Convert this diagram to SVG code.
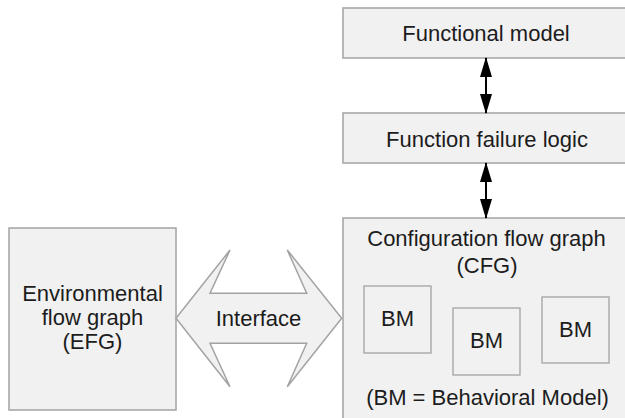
<svg xmlns="http://www.w3.org/2000/svg" width="625" height="418" viewBox="0 0 625 418">
<style>
.box{fill:#f1f1f1;stroke:#a3a3a3;stroke-width:1.5}
.bm{fill:#f1f1f1;stroke:#a3a3a3;stroke-width:1.3}
text{font-family:"Liberation Sans",Arial,sans-serif;font-size:22px;fill:#1c1c1c;text-anchor:middle}
.conn{stroke:#000;stroke-width:2;fill:none}
</style>
<defs>
<marker id="ah" viewBox="0 0 20 12" refX="19" refY="6" markerWidth="20" markerHeight="12" markerUnits="userSpaceOnUse" orient="auto-start-reverse">
<path d="M0,0 L20,6 L0,12 Z" fill="#000"/>
</marker>
</defs>
<rect width="625" height="418" fill="#fff"/>
<g id="functional-model">
<rect class="box" x="343" y="8" width="290" height="50"/>
<text x="486" y="41">Functional model</text>
</g>
<g id="function-failure-logic">
<rect class="box" x="343" y="113" width="290" height="50"/>
<text x="487" y="146.5">Function failure logic</text>
</g>
<g id="cfg">
<rect class="box" x="343" y="218" width="290" height="210"/>
<text x="486.5" y="246">Configuration flow graph</text>
<text x="487" y="273">(CFG)</text>
<text x="487.5" y="405">(BM = Behavioral Model)</text>
</g>
<g id="bm1">
<rect class="bm" x="364" y="286" width="67" height="67"/>
<text x="397.5" y="325.5">BM</text>
</g>
<g id="bm2">
<rect class="bm" x="453" y="308" width="67" height="67"/>
<text x="486.5" y="348">BM</text>
</g>
<g id="bm3">
<rect class="bm" x="542" y="297" width="67" height="66"/>
<text x="575.5" y="337">BM</text>
</g>
<g id="efg">
<rect class="box" x="9" y="228" width="167" height="182"/>
<text x="92.5" y="300.5">Environmental</text>
<text x="92.5" y="325">flow graph</text>
<text x="92.5" y="348.5">(EFG)</text>
</g>
<g id="interface">
<path class="box" d="M176,318.3 L230,250 L210,293.3 L306.7,293.3 L287.3,250 L341.7,318.3 L287.3,386.7 L306.7,343.3 L210,343.3 L230,386.7 Z" stroke-linejoin="miter"/>
<text x="258.5" y="326">Interface</text>
</g>
<g id="connectors">
<line class="conn" x1="486" y1="58" x2="486" y2="113" marker-start="url(#ah)" marker-end="url(#ah)"/>
<line class="conn" x1="486" y1="163" x2="486" y2="218" marker-start="url(#ah)" marker-end="url(#ah)"/>
</g>
</svg>
